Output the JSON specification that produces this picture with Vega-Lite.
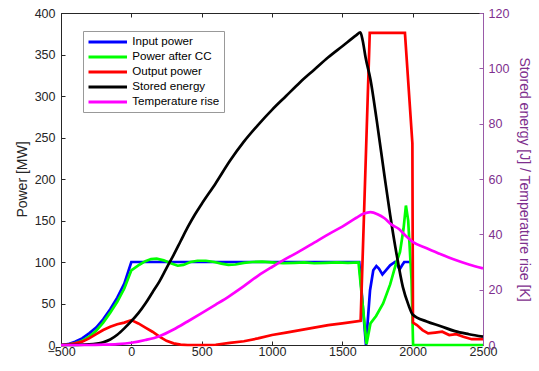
{
  "$schema": "https://vega.github.io/schema/vega-lite/v6.json",
  "width": 422,
  "height": 332,
  "autosize": {"type": "none"},
  "padding": {"left": 61, "top": 13, "right": 56, "bottom": 26},
  "background": "white",
  "config": {
    "font": "Liberation Sans",
    "view": {"stroke": "#262626", "strokeWidth": 1},
    "axis": {"grid": false, "labelFont": "Liberation Sans", "titleFont": "Liberation Sans", "labelFontSize": 12.5, "titleFontSize": 14, "titleFontWeight": "normal", "labelFlush": false, "labelOverlap": false, "labelBound": false},
    "legend": {"strokeColor": "#999999", "fillColor": "white", "padding": 4, "strokeWidth": 1}
  },
  "data": {"values": [
    {"series":"Input power","x":-500,"y":0},{"series":"Input power","x":-450,"y":1},{"series":"Input power","x":-400,"y":4},{"series":"Input power","x":-350,"y":8},{"series":"Input power","x":-300,"y":14},{"series":"Input power","x":-250,"y":21},{"series":"Input power","x":-200,"y":31},{"series":"Input power","x":-150,"y":43},{"series":"Input power","x":-100,"y":57},{"series":"Input power","x":-50,"y":74},{"series":"Input power","x":0,"y":100},{"series":"Input power","x":1620,"y":100},{"series":"Input power","x":1668,"y":0},{"series":"Input power","x":1697,"y":66},{"series":"Input power","x":1720,"y":90},{"series":"Input power","x":1742,"y":95},{"series":"Input power","x":1760,"y":92},{"series":"Input power","x":1785,"y":85},{"series":"Input power","x":1805,"y":89},{"series":"Input power","x":1840,"y":96},{"series":"Input power","x":1874,"y":100},{"series":"Input power","x":1890,"y":97},{"series":"Input power","x":1907,"y":91},{"series":"Input power","x":1925,"y":96},{"series":"Input power","x":1940,"y":100},{"series":"Input power","x":1985,"y":100},
    {"series":"Power after CC","x":-500,"y":0},{"series":"Power after CC","x":-450,"y":0.5},{"series":"Power after CC","x":-400,"y":2},{"series":"Power after CC","x":-350,"y":5},{"series":"Power after CC","x":-300,"y":10},{"series":"Power after CC","x":-250,"y":17},{"series":"Power after CC","x":-200,"y":27},{"series":"Power after CC","x":-150,"y":39},{"series":"Power after CC","x":-100,"y":52},{"series":"Power after CC","x":-50,"y":68},{"series":"Power after CC","x":0,"y":90},{"series":"Power after CC","x":25,"y":93},{"series":"Power after CC","x":60,"y":97},{"series":"Power after CC","x":100,"y":101},{"series":"Power after CC","x":140,"y":103.5},{"series":"Power after CC","x":180,"y":104},{"series":"Power after CC","x":230,"y":102},{"series":"Power after CC","x":280,"y":98.5},{"series":"Power after CC","x":330,"y":95.5},{"series":"Power after CC","x":370,"y":96.5},{"series":"Power after CC","x":420,"y":100},{"series":"Power after CC","x":470,"y":101.5},{"series":"Power after CC","x":530,"y":101.5},{"series":"Power after CC","x":590,"y":100},{"series":"Power after CC","x":640,"y":98},{"series":"Power after CC","x":690,"y":96.5},{"series":"Power after CC","x":740,"y":97},{"series":"Power after CC","x":800,"y":99},{"series":"Power after CC","x":860,"y":100},{"series":"Power after CC","x":930,"y":100.5},{"series":"Power after CC","x":1000,"y":99.5},{"series":"Power after CC","x":1080,"y":98.5},{"series":"Power after CC","x":1160,"y":99},{"series":"Power after CC","x":1230,"y":99.5},{"series":"Power after CC","x":1300,"y":98.5},{"series":"Power after CC","x":1380,"y":99},{"series":"Power after CC","x":1460,"y":99.5},{"series":"Power after CC","x":1540,"y":99},{"series":"Power after CC","x":1615,"y":99.5},{"series":"Power after CC","x":1672,"y":1},{"series":"Power after CC","x":1700,"y":26},{"series":"Power after CC","x":1740,"y":35},{"series":"Power after CC","x":1790,"y":50},{"series":"Power after CC","x":1840,"y":73},{"series":"Power after CC","x":1885,"y":100},{"series":"Power after CC","x":1910,"y":112},{"series":"Power after CC","x":1935,"y":140},{"series":"Power after CC","x":1952,"y":168},{"series":"Power after CC","x":1968,"y":150},{"series":"Power after CC","x":1992,"y":78},{"series":"Power after CC","x":2003,"y":0},{"series":"Power after CC","x":2500,"y":0},
    {"series":"Output power","x":-500,"y":0},{"series":"Output power","x":-450,"y":0.5},{"series":"Output power","x":-400,"y":2},{"series":"Output power","x":-350,"y":4},{"series":"Output power","x":-300,"y":8},{"series":"Output power","x":-250,"y":13},{"series":"Output power","x":-200,"y":18},{"series":"Output power","x":-150,"y":22},{"series":"Output power","x":-100,"y":25},{"series":"Output power","x":-50,"y":27},{"series":"Output power","x":0,"y":30},{"series":"Output power","x":50,"y":26},{"series":"Output power","x":100,"y":21},{"series":"Output power","x":150,"y":16},{"series":"Output power","x":200,"y":10},{"series":"Output power","x":250,"y":5},{"series":"Output power","x":300,"y":2},{"series":"Output power","x":350,"y":0.5},{"series":"Output power","x":400,"y":0},{"series":"Output power","x":500,"y":0},{"series":"Output power","x":600,"y":0.3},{"series":"Output power","x":700,"y":2.5},{"series":"Output power","x":800,"y":4.5},{"series":"Output power","x":900,"y":8},{"series":"Output power","x":1000,"y":12},{"series":"Output power","x":1100,"y":15},{"series":"Output power","x":1200,"y":18},{"series":"Output power","x":1300,"y":21},{"series":"Output power","x":1400,"y":24},{"series":"Output power","x":1500,"y":26},{"series":"Output power","x":1630,"y":29},{"series":"Output power","x":1695,"y":376},{"series":"Output power","x":1945,"y":376},{"series":"Output power","x":1998,"y":243},{"series":"Output power","x":2002,"y":27},{"series":"Output power","x":2030,"y":24},{"series":"Output power","x":2070,"y":18},{"series":"Output power","x":2110,"y":14},{"series":"Output power","x":2160,"y":15},{"series":"Output power","x":2210,"y":16},{"series":"Output power","x":2260,"y":12},{"series":"Output power","x":2310,"y":13},{"series":"Output power","x":2360,"y":10},{"series":"Output power","x":2420,"y":7},{"series":"Output power","x":2500,"y":7},
    {"series":"Stored energy","x":-500,"y":0},{"series":"Stored energy","x":-400,"y":0.05},{"series":"Stored energy","x":-300,"y":0.2},{"series":"Stored energy","x":-200,"y":1},{"series":"Stored energy","x":-150,"y":2},{"series":"Stored energy","x":-100,"y":3.7},{"series":"Stored energy","x":-50,"y":6},{"series":"Stored energy","x":0,"y":8.6},{"series":"Stored energy","x":50,"y":11.5},{"series":"Stored energy","x":100,"y":15},{"series":"Stored energy","x":150,"y":19},{"series":"Stored energy","x":200,"y":23},{"series":"Stored energy","x":250,"y":27.8},{"series":"Stored energy","x":300,"y":32.5},{"series":"Stored energy","x":350,"y":37.5},{"series":"Stored energy","x":400,"y":42.5},{"series":"Stored energy","x":450,"y":47},{"series":"Stored energy","x":500,"y":51},{"series":"Stored energy","x":600,"y":58.5},{"series":"Stored energy","x":700,"y":66.5},{"series":"Stored energy","x":800,"y":73.5},{"series":"Stored energy","x":900,"y":79.5},{"series":"Stored energy","x":1000,"y":85},{"series":"Stored energy","x":1100,"y":90},{"series":"Stored energy","x":1200,"y":95},{"series":"Stored energy","x":1300,"y":99.5},{"series":"Stored energy","x":1400,"y":104},{"series":"Stored energy","x":1500,"y":108},{"series":"Stored energy","x":1600,"y":112},{"series":"Stored energy","x":1628,"y":113},{"series":"Stored energy","x":1645,"y":110},{"series":"Stored energy","x":1665,"y":104},{"series":"Stored energy","x":1700,"y":96},{"series":"Stored energy","x":1745,"y":81},{"series":"Stored energy","x":1800,"y":61},{"series":"Stored energy","x":1840,"y":47},{"series":"Stored energy","x":1885,"y":33},{"series":"Stored energy","x":1930,"y":21},{"series":"Stored energy","x":1970,"y":14.5},{"series":"Stored energy","x":2000,"y":11},{"series":"Stored energy","x":2100,"y":8.5},{"series":"Stored energy","x":2200,"y":6.8},{"series":"Stored energy","x":2300,"y":5},{"series":"Stored energy","x":2400,"y":3.9},{"series":"Stored energy","x":2500,"y":3},
    {"series":"Temperature rise","x":-500,"y":0},{"series":"Temperature rise","x":-300,"y":0},{"series":"Temperature rise","x":-200,"y":0.1},{"series":"Temperature rise","x":-100,"y":0.3},{"series":"Temperature rise","x":0,"y":0.8},{"series":"Temperature rise","x":100,"y":1.8},{"series":"Temperature rise","x":200,"y":3.2},{"series":"Temperature rise","x":300,"y":5.6},{"series":"Temperature rise","x":400,"y":8.5},{"series":"Temperature rise","x":500,"y":11.5},{"series":"Temperature rise","x":600,"y":14.6},{"series":"Temperature rise","x":700,"y":17.8},{"series":"Temperature rise","x":800,"y":21.3},{"series":"Temperature rise","x":900,"y":25},{"series":"Temperature rise","x":1000,"y":28.2},{"series":"Temperature rise","x":1100,"y":31.2},{"series":"Temperature rise","x":1200,"y":34},{"series":"Temperature rise","x":1300,"y":37},{"series":"Temperature rise","x":1400,"y":40},{"series":"Temperature rise","x":1500,"y":42.8},{"series":"Temperature rise","x":1600,"y":46},{"series":"Temperature rise","x":1650,"y":47.4},{"series":"Temperature rise","x":1700,"y":48},{"series":"Temperature rise","x":1750,"y":47.3},{"series":"Temperature rise","x":1800,"y":45.8},{"series":"Temperature rise","x":1850,"y":43.5},{"series":"Temperature rise","x":1900,"y":42},{"series":"Temperature rise","x":1950,"y":39.5},{"series":"Temperature rise","x":2000,"y":37.3},{"series":"Temperature rise","x":2100,"y":35},{"series":"Temperature rise","x":2200,"y":32.8},{"series":"Temperature rise","x":2300,"y":30.8},{"series":"Temperature rise","x":2400,"y":29.1},{"series":"Temperature rise","x":2500,"y":27.7}
  ]},
  "layer": [
    {
      "encoding": {
        "x": {"field": "x", "type": "quantitative", "scale": {"domain": [-500, 2500], "nice": false, "zero": false},
              "axis": {"orient": "bottom", "title": null, "values": [-500,0,500,1000,1500,2000,2500], "format": "d", "tickSize": -4, "labelPadding": 4, "labelColor": "#262626", "domainColor": "#262626", "tickColor": "#262626"}},
        "y": {"field": "y", "type": "quantitative", "scale": {"domain": [0, 400], "nice": false},
              "axis": {"orient": "left", "title": "Power [MW]", "values": [0,50,100,150,200,250,300,350,400], "tickSize": -4, "labelPadding": 10, "titlePadding": 5, "labelColor": "#262626", "titleColor": "#262626", "domainColor": "#262626", "tickColor": "#262626"}},
        "color": {"field": "series", "type": "nominal",
                  "scale": {"domain": ["Input power","Power after CC","Output power","Stored energy","Temperature rise"], "range": ["#0000FF","#00FF00","#FF0000","#000000","#FF00FF"]},
                  "legend": {"title": null, "orient": "none", "legendX": 22, "legendY": 18, "symbolType": "M-1,0H6", "symbolSize": 121, "symbolStrokeWidth": 3, "labelFontSize": 11.6, "labelFont": "Liberation Sans", "labelColor": "#000000", "labelOffset": 31.3, "padding": 4, "rowPadding": 2, "strokeColor": "#999999", "fillColor": "white"}}
      },
      "layer": [
        {"transform": [{"filter": "datum.series === 'Input power'"}], "mark": {"type": "line", "strokeWidth": 2.7}},
        {"transform": [{"filter": "datum.series === 'Power after CC'"}], "mark": {"type": "line", "strokeWidth": 2.7}},
        {"transform": [{"filter": "datum.series === 'Output power'"}], "mark": {"type": "line", "strokeWidth": 2.7}}
      ]
    },
    {
      "encoding": {
        "x": {"field": "x", "type": "quantitative", "scale": {"domain": [-500, 2500], "nice": false, "zero": false},
              "axis": {"orient": "top", "title": null, "labels": false, "domain": false, "values": [-500,0,500,1000,1500,2000,2500], "tickSize": -4, "tickColor": "#262626"}},
        "y": {"field": "y", "type": "quantitative", "scale": {"domain": [0, 120], "nice": false},
              "axis": {"orient": "right", "title": "Stored energy [J] / Temperature rise [K]", "values": [0,20,40,60,80,100,120], "tickSize": -4, "labelPadding": 9, "titlePadding": 8, "labelColor": "#7E2F8E", "titleColor": "#7E2F8E", "domainColor": "#9A5AA8", "tickColor": "#9A5AA8"}},
        "color": {"field": "series", "type": "nominal"}
      },
      "layer": [
        {"transform": [{"filter": "datum.series === 'Stored energy'"}], "mark": {"type": "line", "strokeWidth": 2.7, "interpolate": "monotone"}},
        {"transform": [{"filter": "datum.series === 'Temperature rise'"}], "mark": {"type": "line", "strokeWidth": 2.7, "interpolate": "monotone"}}
      ]
    }
  ],
  "resolve": {"scale": {"y": "independent"}, "axis": {"x": "independent"}}
}
